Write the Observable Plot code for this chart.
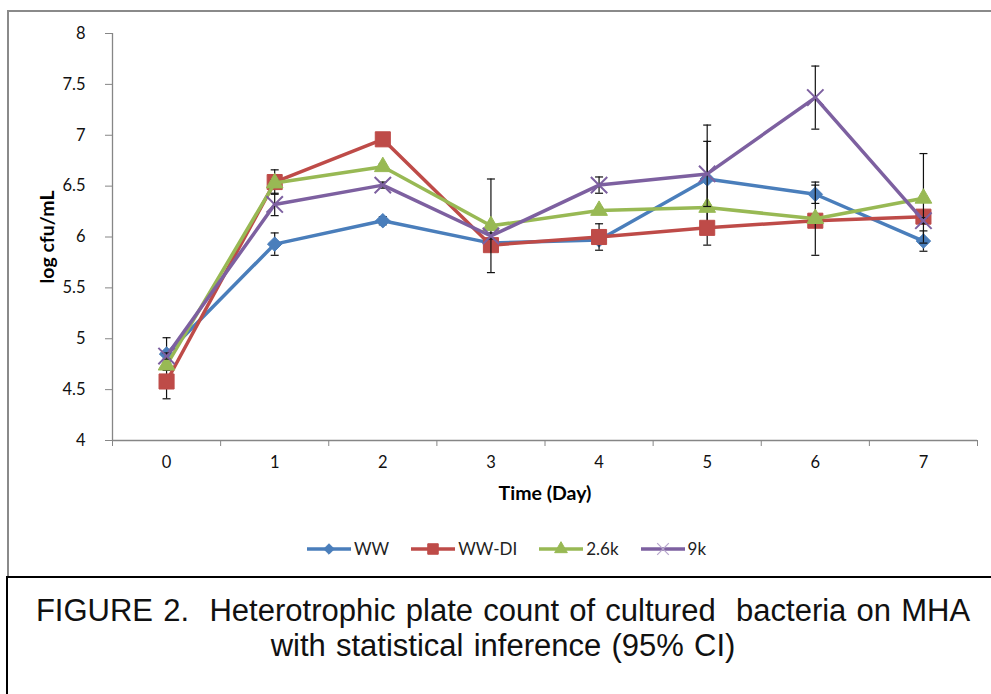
<!DOCTYPE html>
<html>
<head>
<meta charset="utf-8">
<script src="https://cdn.jsdelivr.net/npm/d3@7"></script>
<script src="https://cdn.jsdelivr.net/npm/@observablehq/plot@0.6"></script>
<style>
html, body { margin: 0; padding: 0; background: #fff; }
#wrap { position: relative; width: 991px; height: 694px; overflow: hidden; background: #fff; }
#plot { position: absolute; left: 0; top: 0; }
#chartBorder { position: absolute; left: 7px; top: 10px; width: 1100px; height: 566px;
  border-top: 2px solid #8a8a8a; border-left: 2px solid #8a8a8a; box-sizing: border-box; }
#capBorder { position: absolute; left: 6px; top: 576px; width: 1100px; height: 200px;
  border-top: 2px solid #000; border-left: 2px solid #000; box-sizing: border-box; }
#legend { position: absolute; left: 306px; top: 538px; display: flex; align-items: center;
  font-family: Lato, "Open Sans", sans-serif; font-size: 17px; color: #222; }
#legend .item { display: flex; align-items: center; margin-right: 21px; }
#legend svg { display: block; margin-right: 2px; }
#caption { position: absolute; left: 16px; top: 593px; width: 974px; text-align: center;
  font-family: "Liberation Sans", Arial, sans-serif; font-size: 31px; line-height: 35px;
  word-spacing: 1.6px; color: #111; white-space: pre; }
</style>
</head>
<body>
<div id="wrap">
  <div id="plot"></div>
  <div id="chartBorder"></div>
  <div id="legend"></div>
  <div id="capBorder"></div>
  <div id="caption">FIGURE 2.  Heterotrophic plate count of cultured  bacteria on MHA
with statistical inference (95% CI)</div>
</div>
<script>
// ---- data ----
const days = [0, 1, 2, 3, 4, 5, 6, 7];
const seriesNames = ["WW", "WW-DI", "2.6k", "9k"];

const wwMean   = [4.85, 5.93, 6.16, 5.94, 5.97, 6.57, 6.42, 5.96];
const wwErr    = [0.16, 0.11, 0.04, 0.03, 0.03, 0.53, 0.09, 0.10];
const wwdiMean = [4.58, 6.54, 6.96, 5.92, 6.00, 6.09, 6.16, 6.20];
const wwdiErr  = [0.17, 0.12, 0.03, 0.03, 0.13, 0.17, 0.03, 0.03];
const k26Mean  = [4.74, 6.53, 6.69, 6.11, 6.26, 6.29, 6.18, 6.38];
const k26Err   = [0.03, 0.03, 0.03, 0.46, 0.03, 0.03, 0.36, 0.44];
const k9Mean   = [4.83, 6.32, 6.51, 6.01, 6.51, 6.62, 7.37, 6.16];
const k9Err    = [0.03, 0.11, 0.03, 0.03, 0.08, 0.32, 0.31, 0.03];

const yTicks = [4, 4.5, 5, 5.5, 6, 6.5, 7, 7.5, 8];
const xLabel = "Time (Day)";
const yLabel = "log cfu/mL";

// ---- styling ----
const seriesColors  = ["#4A7EBB", "#BE4B48", "#98B954", "#7D60A0"];
const seriesSymbols = ["diamond2", "square", "triangle", "times"];
const seriesR       = [6.5, 8.5, 6.2, 7.5];
const axisGray = "#868686";
const tickFont = 16.5;
const titleFont = 19.5;

const means = [wwMean, wwdiMean, k26Mean, k9Mean];
const errs  = [wwErr, wwdiErr, k26Err, k9Err];

const rows = seriesNames.flatMap((name, si) =>
  days.map((day, i) => ({
    series: name, si, day,
    mean: means[si][i],
    lo: means[si][i] - errs[si][i],
    hi: means[si][i] + errs[si][i]
  }))
);

const xDomain = [days[0] - 0.5, days[days.length - 1] + 0.5];
const boundaries = d3.range(xDomain[0], xDomain[1] + 0.001, 1);

const capSymbol = {
  draw(ctx) { ctx.moveTo(-4, 0); ctx.lineTo(4, 0); }
};

const seriesMarks = seriesNames.flatMap((name, si) => {
  const d = rows.filter(r => r.si === si);
  const isStroke = seriesSymbols[si] === "times";
  return [
    Plot.line(d, { x: "day", y: "mean", stroke: seriesColors[si], strokeWidth: 3.5, strokeLinejoin: "round" }),
    Plot.ruleX(d, { x: "day", y1: "lo", y2: "hi", stroke: "#111", strokeWidth: 1.2 }),
    Plot.dot(d, { x: "day", y: "lo", symbol: capSymbol, stroke: "#111", strokeWidth: 1.2, r: 4 }),
    Plot.dot(d, { x: "day", y: "hi", symbol: capSymbol, stroke: "#111", strokeWidth: 1.2, r: 4 }),
    Plot.dot(d, isStroke
      ? { x: "day", y: "mean", symbol: seriesSymbols[si], stroke: seriesColors[si], strokeWidth: 2, fill: "none", r: seriesR[si] }
      : { x: "day", y: "mean", symbol: seriesSymbols[si], fill: seriesColors[si], stroke: seriesColors[si], strokeWidth: 1, r: seriesR[si] })
  ];
});

const chart = Plot.plot({
  width: 991,
  height: 560,
  marginLeft: 112,
  marginRight: 14,
  marginTop: 33,
  marginBottom: 120,
  style: { background: "none", fontFamily: "Lato, 'Open Sans', sans-serif", fontSize: tickFont + "px", color: "#000", overflow: "visible" },
  x: { domain: xDomain },
  y: { domain: [yTicks[0], yTicks[yTicks.length - 1]] },
  marks: [
    Plot.ruleY([yTicks[0]], { stroke: axisGray, strokeWidth: 1.3 }),
    Plot.ruleX([xDomain[0]], { stroke: axisGray, strokeWidth: 1.3 }),
    Plot.axisY(yTicks, { anchor: "left", tickSize: 7, tickPadding: 20, stroke: axisGray, fill: "#111", tickFormat: d => String(d), label: null, fontSize: tickFont }),
    Plot.axisX(boundaries, { anchor: "bottom", tickSize: 6, stroke: axisGray, tickFormat: () => "", label: null }),
    Plot.axisX(days, { anchor: "bottom", tickSize: 0, tickPadding: 16, fill: "#111", tickFormat: d => String(d), label: null, fontSize: tickFont }),
    Plot.text([xLabel], { text: d => d, frameAnchor: "bottom", dy: 53, textAnchor: "middle", lineAnchor: "middle", fontWeight: "bold", fontSize: titleFont, fill: "#000" }),
    Plot.text([yLabel], { text: d => d, frameAnchor: "left", dx: -65, rotate: -90, textAnchor: "middle", lineAnchor: "middle", fontWeight: "bold", fontSize: titleFont, fill: "#000" }),
    ...seriesMarks
  ]
});
document.getElementById("plot").appendChild(chart);

// ---- legend ----
const legend = d3.select("#legend");
const d3Symbols = { diamond2: d3.symbolDiamond2, square: d3.symbolSquare, triangle: d3.symbolTriangle, times: d3.symbolTimes };
seriesNames.forEach((name, si) => {
  const item = legend.append("div").attr("class", "item");
  const svg = item.append("svg").attr("width", 46).attr("height", 16);
  svg.append("line").attr("x1", 1).attr("x2", 45).attr("y1", 8).attr("y2", 8)
    .attr("stroke", seriesColors[si]).attr("stroke-width", 3.5);
  const isStroke = seriesSymbols[si] === "times";
  const sizes = [70, 110, 70, 90];
  svg.append("path").attr("transform", "translate(23,8)")
    .attr("d", d3.symbol(d3Symbols[seriesSymbols[si]], sizes[si])())
    .attr("fill", isStroke ? "none" : seriesColors[si])
    .attr("stroke", isStroke ? "#b7a6cc" : seriesColors[si])
    .attr("stroke-width", isStroke ? 1.2 : 1);
  item.append("span").text(name);
});
</script>
</body>
</html>
